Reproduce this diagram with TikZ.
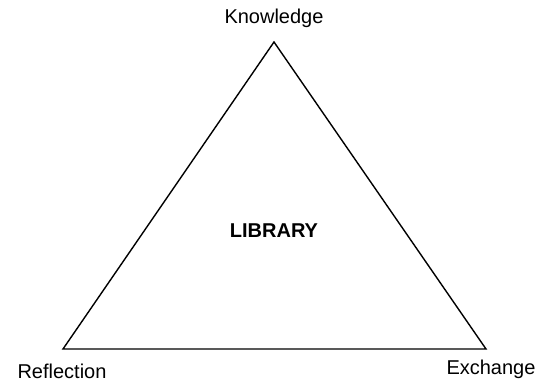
\documentclass[tikz,border=0pt]{standalone}
\usepackage{fontspec}
\setmainfont{Liberation Sans}
\begin{document}
\begin{tikzpicture}[x=1pt,y=-1pt,
  lbl/.style={font=\fontsize{20}{23}\selectfont, inner sep=0pt},
  edge/.style={line width=1.4pt, line join=miter}]
\useasboundingbox (0,0) rectangle (544,382);
\coordinate (top) at (274,42);
\coordinate (bl) at (63,349);
\coordinate (br) at (486,349);
\draw[edge] (top) -- (bl) -- (br) -- cycle;
\node[lbl] (know) at (274,18) {Knowledge};
\node[lbl] (refl) at (62,371) {Reflection};
\node[lbl] (exch) at (491,369) {Exchange};
\node[lbl, font=\fontsize{20}{23}\selectfont\bfseries] (lib) at (274,231) {LIBRARY};
\end{tikzpicture}
\end{document}
